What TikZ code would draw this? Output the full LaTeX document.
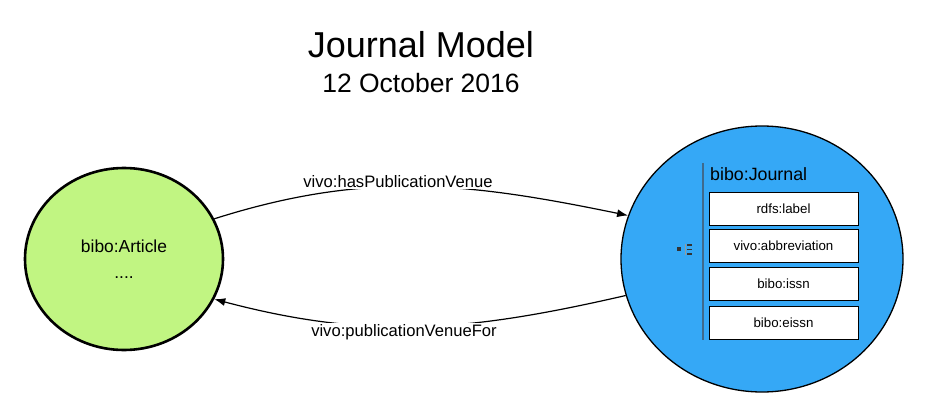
\documentclass[tikz,border=0pt]{standalone}
\usepackage{fontspec}
\setmainfont{Liberation Sans}
\usetikzlibrary{shapes.geometric,arrows.meta}
\definecolor{artgreen}{HTML}{C1F582}
\definecolor{jrnblue}{HTML}{35A8F6}
\definecolor{barcol}{HTML}{3F6A8C}
\tikzset{
  classnode/.style={ellipse, draw=black, inner sep=0pt},
  propbox/.style={rectangle, draw=black, line width=1pt, fill=white, minimum width=149pt, minimum height=33pt, inner sep=0pt, font=\fontsize{13.3}{15}\selectfont},
  edgelabel/.style={fill=white, inner sep=1pt, font=\fontsize{16.6}{19}\selectfont},
  conn/.style={line width=1.2pt, -{Latex[length=11pt,width=8pt]}}
}
\begin{document}
\begin{tikzpicture}[x=1pt,y=-1pt]
\useasboundingbox (0,0) rectangle (929,417);
% title
\node[font=\fontsize{36}{40}\selectfont] (title) at (421,45) {Journal Model};
\node[font=\fontsize{26.5}{30}\selectfont] (date) at (421,83) {12 October 2016};
% class nodes
\node[classnode, line width=2.6pt, fill=artgreen, minimum width=198pt, minimum height=182pt, align=center, font=\fontsize{17.4}{26}\selectfont] (article) at (124,259) {bibo:Article\\....};
\node[classnode, line width=1.3pt, fill=jrnblue, minimum width=282pt, minimum height=266pt] (journal) at (762,259) {};
% inner journal content
\coordinate (bartop) at (703,163);
\coordinate (barbot) at (703,340);
\draw[barcol, line width=1.4pt] (bartop) -- (barbot);
\node[anchor=base west, inner sep=0pt, font=\fontsize{17.8}{20}\selectfont] (jlabel) at (710,180) {bibo:Journal};
\node[propbox] (p1) at (783.5,208.5) {rdfs:label};
\node[propbox] (p2) at (783.5,246) {vivo:abbreviation};
\node[propbox] (p3) at (783.5,284) {bibo:issn};
\node[propbox] (p4) at (783.5,322.5) {bibo:eissn};
% small icon
\fill[black!80] (677,247.3) rectangle (681,250.7);
\draw[black!40, line width=0.5pt] (685,244) -- (685,255);
\fill[black!80] (687,244.3) rectangle (692,245.8);
\fill[black!80] (687,248.6) rectangle (692,250.1);
\fill[black!80] (687,253.1) rectangle (692,254.6);
% connectors
\draw[conn] (article.24) .. controls (368,170) and (470,183) .. (journal.162);
\draw[conn] (journal.195) .. controls (471,331) and (372,341) .. (article.336);
\node[edgelabel] (l1) at (398,182) {vivo:hasPublicationVenue};
\node[edgelabel] (l2) at (404,332) {vivo:publicationVenueFor};
\end{tikzpicture}
\end{document}
